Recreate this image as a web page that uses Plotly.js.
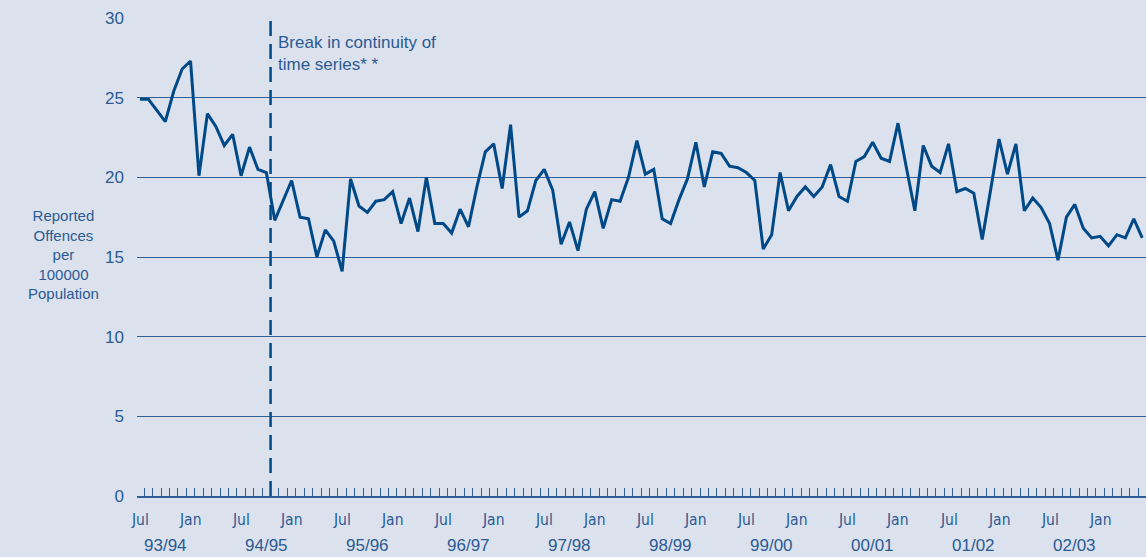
<!DOCTYPE html>
<html>
<head>
<meta charset="utf-8">
<script src="https://cdn.plot.ly/plotly-3.0.1.min.js"></script>
<style>
html,body{margin:0;padding:0;background:#DCE1EE;}
#chart{width:1146px;height:557px;}
</style>
</head>
<body>
<div id="chart"></div>
<script>
// Monthly series, Jul 1993 .. Jun 2003 (index 0 = Jul 1993)
const offences = [
  24.9, 24.9, 24.2, 23.5, 25.4, 26.8, 27.3, 20.1, 24.0, 23.2, 22.0, 22.7,
  20.1, 21.9, 20.5, 20.3, 17.3, 18.6, 19.8, 17.5, 17.4, 15.0, 16.7, 16.0,
  14.1, 19.9, 18.2, 17.8, 18.5, 18.6, 19.1, 17.1, 18.7, 16.6, 20.0, 17.1,
  17.1, 16.5, 18.0, 16.9, 19.4, 21.6, 22.1, 19.3, 23.3, 17.5, 17.9, 19.8,
  20.5, 19.2, 15.8, 17.2, 15.4, 18.0, 19.1, 16.8, 18.6, 18.5, 20.0, 22.3,
  20.2, 20.5, 17.4, 17.1, 18.6, 19.9, 22.2, 19.4, 21.6, 21.5, 20.7, 20.6,
  20.3, 19.8, 15.5, 16.4, 20.3, 17.9, 18.8, 19.4, 18.8, 19.4, 20.8, 18.8,
  18.5, 21.0, 21.3, 22.2, 21.2, 21.0, 23.4, 20.6, 17.9, 22.0, 20.7, 20.3,
  22.1, 19.1, 19.3, 19.0, 16.1, 19.2, 22.4, 20.2, 22.1, 17.9, 18.7, 18.1,
  17.1, 14.8, 17.5, 18.3, 16.8, 16.2, 16.3, 15.7, 16.4, 16.2, 17.4, 16.2
];
const monthLabels = ["Jul","Jan","Jul","Jan","Jul","Jan","Jul","Jan","Jul","Jan",
                     "Jul","Jan","Jul","Jan","Jul","Jan","Jul","Jan","Jul","Jan"];
const yearLabels = ["93/94","94/95","95/96","96/97","97/98","98/99","99/00","00/01","01/02","02/03"];
const yTicks = [0, 5, 10, 15, 20, 25, 30];
const breakIndex = 15.5;   // between Oct 1994 and Nov 1994
const breakText = "Break in continuity of<br>time series* *";
const yTitle = "Reported<br>Offences<br>per<br>100000<br>Population";

const textColor = "#2B5B92";
const lineColor = "#004987";
const gridColor = "#2F5F95";
const bg = "#DCE1EE";

const xs = offences.map((v, i) => i);
const boundaries = [];
for (let i = 0; i < offences.length; i++) boundaries.push(i - 0.5);

const annotations = [];
monthLabels.forEach((t, k) => annotations.push({
  x: k * 6, y: -0.0502, xref: "x", yref: "paper", text: t, showarrow: false,
  xanchor: "center", yanchor: "middle",
  font: {family: "DejaVu Sans Condensed, Liberation Sans Narrow, Liberation Sans", size: 15.5, color: textColor}
}));
yearLabels.forEach((t, k) => annotations.push({
  x: k * 12 + 3, y: -0.1046, xref: "x", yref: "paper", text: t, showarrow: false,
  xanchor: "center", yanchor: "middle",
  font: {family: "Liberation Sans, Arial, sans-serif", size: 17, color: textColor}
}));
annotations.push({
  x: breakIndex, y: 1, xref: "x", yref: "paper", text: breakText, showarrow: false,
  xanchor: "left", yanchor: "top", xshift: 5, yshift: -13, align: "left",
  font: {family: "Liberation Sans, Arial, sans-serif", size: 17, color: textColor}
});
annotations.push({
  x: -0.073, y: 0.505, xref: "paper", yref: "paper", text: yTitle, showarrow: false,
  xanchor: "center", yanchor: "middle", align: "center",
  font: {family: "Liberation Sans, Arial, sans-serif", size: 15, color: textColor}
});

const data = [{
  x: xs, y: offences, type: "scatter", mode: "lines",
  line: {color: lineColor, width: 3},
  hoverinfo: "skip"
}];

const layout = {
  width: 1146, height: 557,
  margin: {l: 137, r: 0, t: 18, b: 61},
  paper_bgcolor: bg, plot_bgcolor: bg,
  showlegend: false,
  xaxis: {
    range: [-0.36, 119.45],
    tickvals: boundaries, ticktext: boundaries.map(() => ""),
    ticks: "inside", ticklen: 8, tickwidth: 1, tickcolor: gridColor,
    showgrid: false, zeroline: false,
    showline: true, linecolor: gridColor, linewidth: 1.5,
    fixedrange: true
  },
  yaxis: {
    range: [0, 30],
    tickvals: yTicks,
    ticks: "", ticklabelstandoff: 12,
    tickfont: {family: "Liberation Sans, Arial, sans-serif", size: 17, color: textColor},
    showgrid: true, gridcolor: gridColor, gridwidth: 1,
    zeroline: false, showline: false,
    fixedrange: true
  },
  shapes: [{
    type: "line", xref: "x", yref: "paper",
    x0: breakIndex, x1: breakIndex, y0: 0, y1: 1,
    line: {color: lineColor, width: 2.5, dash: "15px,8px"}
  }],
  annotations: annotations
};

Plotly.newPlot("chart", data, layout, {displayModeBar: false, staticPlot: true});
</script>
</body>
</html>
